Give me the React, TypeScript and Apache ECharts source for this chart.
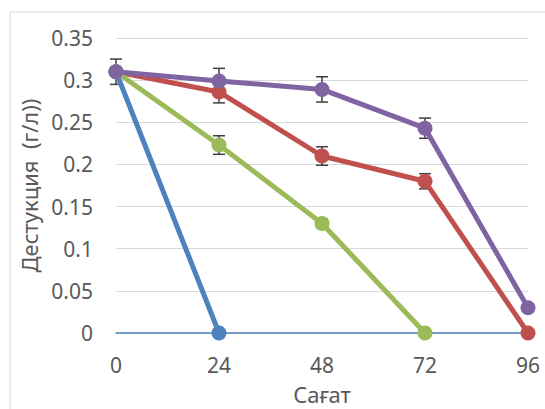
import React, { useEffect, useRef } from "react";
import * as echarts from "echarts";

const hours = ["0", "24", "48", "72", "96"];
const yTicks = { min: 0, max: 0.35, interval: 0.05 };

const blueValues = [0.31, 0, null, null, null];
const redValues = [0.31, 0.286, 0.21, 0.18, 0];
const greenValues = [0.31, 0.223, 0.13, 0, null];
const purpleValues = [0.31, 0.299, 0.289, 0.243, 0.03];

const redErrors = [0, 0.013, 0.011, 0.009, 0];
const greenErrors = [0, 0.011, 0.005, 0, 0];
const purpleErrors = [0.015, 0.015, 0.015, 0.012, 0];

const colors = {
  blue: "#4F81BD",
  red: "#C0504D",
  green: "#9BBB59",
  purple: "#8064A2",
};

const FONT = "'Noto Sans', 'Open Sans', sans-serif";
const TEXT = "#595959";

function errorData(values: (number | null)[], errs: number[]) {
  const out: number[][] = [];
  values.forEach((v, i) => {
    if (v !== null && errs[i] > 0) out.push([i, v, errs[i]]);
  });
  return out;
}

function errorSeries(values: (number | null)[], errs: number[]) {
  return {
    type: "custom",
    z: 1,
    clip: false,
    data: errorData(values, errs),
    renderItem: (params: any, api: any) => {
      const x = api.value(0);
      const y = api.value(1);
      const e = api.value(2);
      const top = api.coord([x, y + e]);
      const bot = api.coord([x, y - e]);
      const half = 6;
      const style = { stroke: "#404040", lineWidth: 1.5 };
      return {
        type: "group",
        children: [
          { type: "line", shape: { x1: top[0], y1: top[1], x2: bot[0], y2: bot[1] }, style },
          { type: "line", shape: { x1: top[0] - half, y1: top[1], x2: top[0] + half, y2: top[1] }, style },
          { type: "line", shape: { x1: bot[0] - half, y1: bot[1], x2: bot[0] + half, y2: bot[1] }, style },
        ],
      };
    },
  };
}

function lineSeries(values: (number | null)[], color: string, z: number) {
  return {
    type: "line",
    data: values,
    z,
    symbol: "circle",
    symbolSize: 15,
    connectNulls: false,
    lineStyle: { color, width: 5 },
    itemStyle: { color },
  };
}

export default function App() {
  const ref = useRef<HTMLDivElement>(null);
  useEffect(() => {
    document.body.style.margin = "0";
    const chart = echarts.init(ref.current!, null, { renderer: "svg" });
    chart.setOption({
      animation: false,
      backgroundColor: "#ffffff",
      textStyle: { fontFamily: FONT },
      graphic: [
        {
          type: "rect",
          shape: { x: 10, y: 12, width: 600, height: 500 },
          style: { fill: "none", stroke: "#D9D9D9", lineWidth: 1 },
          z: -1,
        },
      ],
      grid: { left: 116, right: 17, top: 38, bottom: 76, containLabel: false, outerBoundsMode: "none" },
      xAxis: {
        type: "category",
        data: hours,
        boundaryGap: false,
        axisLine: { lineStyle: { color: colors.blue, width: 1.5 } },
        axisTick: { show: false },
        axisLabel: { color: TEXT, fontSize: 21, fontFamily: FONT, margin: 21 },
        name: "Сағат",
        nameLocation: "middle",
        nameGap: 50,
        nameTextStyle: { color: TEXT, fontSize: 22, fontFamily: FONT, lineHeight: 22 },
      },
      yAxis: {
        type: "value",
        min: yTicks.min,
        max: yTicks.max,
        interval: yTicks.interval,
        axisLine: { show: false },
        axisTick: { show: false },
        splitLine: { lineStyle: { color: "#D9D9D9", width: 1 } },
        axisLabel: { color: TEXT, fontSize: 21, fontFamily: FONT, margin: 23 },
        name: "Дестукция  (г/л))",
        nameLocation: "middle",
        nameGap: 68,
        nameTextStyle: { color: TEXT, fontSize: 22, fontFamily: FONT },
      },
      series: [
        errorSeries(redValues, redErrors),
        errorSeries(greenValues, greenErrors),
        errorSeries(purpleValues, purpleErrors),
        lineSeries(blueValues, colors.blue, 2),
        lineSeries(redValues, colors.red, 3),
        lineSeries(greenValues, colors.green, 4),
        lineSeries(purpleValues, colors.purple, 5),
      ],
    });
    return () => chart.dispose();
  }, []);
  return <div ref={ref} style={{ width: 545, height: 409 }} />;
}
